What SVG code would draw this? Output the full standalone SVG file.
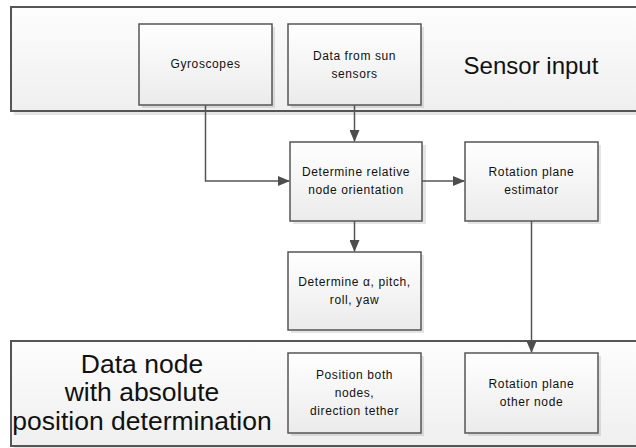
<svg xmlns="http://www.w3.org/2000/svg" width="636" height="448" viewBox="0 0 636 448">
<defs>
<linearGradient id="gBox" x1="0" y1="0" x2="0" y2="1">
<stop offset="0" stop-color="#ffffff"/>
<stop offset="1" stop-color="#ebebeb"/>
</linearGradient>
<linearGradient id="gOuter" x1="0" y1="0" x2="0" y2="1">
<stop offset="0" stop-color="#fdfdfd"/>
<stop offset="1" stop-color="#efefef"/>
</linearGradient>
<marker id="arr" markerWidth="12" markerHeight="10" refX="11" refY="5" orient="auto" markerUnits="userSpaceOnUse">
<path d="M0,0 L12,5 L0,10 Z" fill="#4d4d4d"/>
</marker>
</defs>
<style>
.outer{fill:url(#gOuter);stroke:#555;stroke-width:2}
.box{fill:url(#gBox);stroke:#555;stroke-width:1.5}
.sh{fill:#000;opacity:0.10}
.t{font-family:"Liberation Sans",Arial,sans-serif;font-size:12px;letter-spacing:0.6px;fill:#111;text-anchor:middle}
.big{font-family:"Liberation Sans",Arial,sans-serif;font-size:24px;fill:#111;text-anchor:middle}
.big2{font-family:"Liberation Sans",Arial,sans-serif;font-size:26.5px;fill:#111;text-anchor:middle}
.c{fill:none;stroke:#555;stroke-width:1.5}
</style>
<rect width="636" height="448" fill="#ffffff"/>

<g id="sensor-input">
<rect class="sh" x="14" y="10" width="630" height="105"/>
<rect class="outer" x="11" y="7" width="630" height="104"/>
<text class="big" x="531" y="74">Sensor input</text>
</g>

<g id="data-node">
<rect class="sh" x="14" y="344" width="630" height="106"/>
<rect class="outer" x="11" y="341" width="630" height="105"/>
<text class="big2" x="142" y="373">Data node</text>
<text class="big2" x="142" y="401">with absolute</text>
<text class="big2" x="142" y="430">position determination</text>
</g>

<g id="gyroscopes">
<rect class="sh" x="142" y="27" width="133" height="81"/>
<rect class="box" x="139" y="24" width="133" height="81"/>
<text class="t" x="205.5" y="68">Gyroscopes</text>
</g>

<g id="sun-sensors">
<rect class="sh" x="291" y="27" width="133" height="81"/>
<rect class="box" x="288" y="24" width="133" height="81"/>
<text class="t" x="354.5" y="60">Data from sun</text>
<text class="t" x="354.5" y="78">sensors</text>
</g>

<g id="determine-orientation">
<rect class="sh" x="293" y="145" width="133" height="79"/>
<rect class="box" x="290" y="142" width="132" height="79"/>
<text class="t" x="356" y="176">Determine relative</text>
<text class="t" x="356" y="194">node orientation</text>
</g>

<g id="rotation-estimator">
<rect class="sh" x="468" y="145" width="133" height="79"/>
<rect class="box" x="465" y="142" width="133" height="79"/>
<text class="t" x="531.5" y="176">Rotation plane</text>
<text class="t" x="531.5" y="194">estimator</text>
</g>

<g id="determine-angles">
<rect class="sh" x="291" y="255" width="133" height="78"/>
<rect class="box" x="288" y="252" width="133" height="78"/>
<text class="t" x="354.5" y="286">Determine α, pitch,</text>
<text class="t" x="354.5" y="304">roll, yaw</text>
</g>

<g id="position-both">
<rect class="sh" x="291" y="356" width="133" height="80"/>
<rect class="box" x="288" y="353" width="133" height="80"/>
<text class="t" x="354.5" y="379">Position both</text>
<text class="t" x="354.5" y="397">nodes,</text>
<text class="t" x="354.5" y="415">direction tether</text>
</g>

<g id="rotation-other">
<rect class="sh" x="468" y="356" width="133" height="80"/>
<rect class="box" x="465" y="353" width="133" height="80"/>
<text class="t" x="531.5" y="388">Rotation plane</text>
<text class="t" x="531.5" y="406">other node</text>
</g>

<g id="connectors">
<path class="c" d="M205.5,105 V181 H289" marker-end="url(#arr)"/>
<path class="c" d="M354.5,105 V141" marker-end="url(#arr)"/>
<path class="c" d="M422,181 H464" marker-end="url(#arr)"/>
<path class="c" d="M354.5,221 V251" marker-end="url(#arr)"/>
<path class="c" d="M531.5,221 V352" marker-end="url(#arr)"/>
</g>
</svg>
